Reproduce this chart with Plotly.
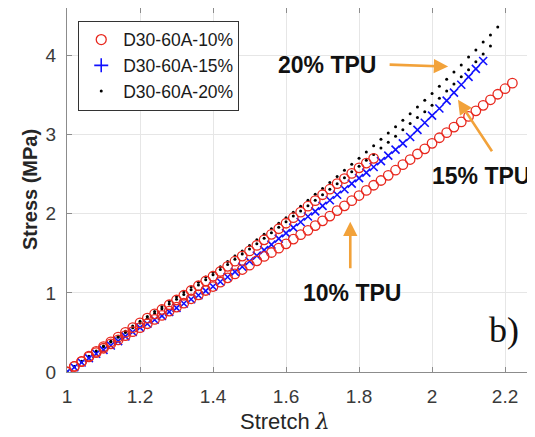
import plotly.graph_objects as go

# ---------------- data ----------------
# D30-60A-10% : test run 1 (stops at lambda ~1.84)
lam_10a = [1.00, 1.02, 1.04, 1.06, 1.08, 1.10, 1.12, 1.14, 1.16, 1.18, 1.20, 1.22, 1.24, 1.26, 1.28,
           1.30, 1.32, 1.34, 1.36, 1.38, 1.40, 1.42, 1.44, 1.46, 1.48, 1.50, 1.52, 1.54, 1.56, 1.58,
           1.60, 1.62, 1.64, 1.66, 1.68, 1.70, 1.72, 1.74, 1.76, 1.78, 1.80, 1.82, 1.84]
sig_10a = [0.00, 0.07, 0.135, 0.20, 0.26, 0.32, 0.38, 0.44, 0.50, 0.56, 0.62, 0.68, 0.735, 0.79, 0.85,
           0.91, 0.97, 1.03, 1.09, 1.15, 1.21, 1.27, 1.335, 1.40, 1.465, 1.53, 1.60, 1.67, 1.74, 1.81,
           1.88, 1.95, 2.02, 2.095, 2.165, 2.24, 2.31, 2.38, 2.445, 2.51, 2.58, 2.64, 2.70]
# D30-60A-10% : test run 2 (to lambda ~2.22)
lam_10b = [1.00, 1.02, 1.04, 1.06, 1.08, 1.10, 1.12, 1.14, 1.16, 1.18, 1.20, 1.22, 1.24, 1.26, 1.28,
           1.30, 1.32, 1.34, 1.36, 1.38, 1.40, 1.42, 1.44, 1.46, 1.48, 1.50, 1.52, 1.54, 1.56, 1.58,
           1.60, 1.62, 1.64, 1.66, 1.68, 1.70, 1.72, 1.74, 1.76, 1.78, 1.80, 1.82, 1.84, 1.86, 1.88,
           1.90, 1.92, 1.94, 1.96, 1.98, 2.00, 2.02, 2.04, 2.06, 2.08, 2.10, 2.12, 2.14, 2.16, 2.18,
           2.20, 2.22]
sig_10b = [0.00, 0.07, 0.13, 0.19, 0.245, 0.30, 0.355, 0.405, 0.46, 0.51, 0.56, 0.61, 0.665, 0.715, 0.77,
           0.82, 0.87, 0.925, 0.975, 1.03, 1.08, 1.135, 1.19, 1.24, 1.295, 1.35, 1.405, 1.46, 1.51, 1.565,
           1.62, 1.68, 1.735, 1.79, 1.85, 1.91, 1.97, 2.04, 2.10, 2.165, 2.23, 2.295, 2.36, 2.42, 2.485,
           2.55, 2.62, 2.685, 2.755, 2.82, 2.89, 2.96, 3.025, 3.095, 3.16, 3.23, 3.30, 3.37, 3.44, 3.51,
           3.58, 3.65]
# D30-60A-15%
lam_15 = [1.00, 1.02, 1.04, 1.06, 1.08, 1.10, 1.12, 1.14, 1.16, 1.18, 1.20, 1.22, 1.24, 1.26, 1.28,
          1.30, 1.32, 1.34, 1.36, 1.38, 1.40, 1.42, 1.44, 1.46, 1.48, 1.50, 1.52, 1.54, 1.56, 1.58,
          1.60, 1.62, 1.64, 1.66, 1.68, 1.70, 1.72, 1.74, 1.76, 1.78, 1.80, 1.82, 1.84, 1.86, 1.88,
          1.90, 1.92, 1.94, 1.96, 1.98, 2.00, 2.02, 2.04, 2.06, 2.08, 2.10, 2.12, 2.14]
sig_15 = [0.00, 0.06, 0.12, 0.175, 0.23, 0.28, 0.335, 0.39, 0.45, 0.505, 0.56, 0.61, 0.66, 0.71, 0.76,
          0.81, 0.865, 0.92, 0.97, 1.025, 1.08, 1.14, 1.20, 1.265, 1.33, 1.40, 1.47, 1.54, 1.61, 1.685,
          1.755, 1.825, 1.895, 1.965, 2.03, 2.10, 2.17, 2.24, 2.31, 2.38, 2.45, 2.52, 2.59, 2.665, 2.735,
          2.81, 2.89, 2.97, 3.06, 3.15, 3.24, 3.33, 3.43, 3.53, 3.63, 3.73, 3.83, 3.93]
# D30-60A-20% : two test runs
lam_20a = [1.00, 1.02, 1.04, 1.06, 1.08, 1.10, 1.12, 1.14, 1.16, 1.18, 1.20, 1.22, 1.24, 1.26, 1.28,
           1.30, 1.32, 1.34, 1.36, 1.38, 1.40, 1.42, 1.44, 1.46, 1.48, 1.50, 1.52, 1.54, 1.56, 1.58,
           1.60, 1.62, 1.64, 1.66, 1.68, 1.70, 1.72, 1.74, 1.76, 1.78, 1.80, 1.82, 1.84, 1.86, 1.88,
           1.90, 1.92, 1.94, 1.96, 1.98, 2.00, 2.02, 2.04, 2.06, 2.08, 2.10, 2.12, 2.14, 2.16, 2.18]
sig_20a = [0.00, 0.07, 0.135, 0.20, 0.265, 0.33, 0.39, 0.45, 0.515, 0.58, 0.64, 0.70, 0.765, 0.825, 0.89,
           0.95, 1.01, 1.075, 1.135, 1.20, 1.26, 1.33, 1.395, 1.465, 1.53, 1.60, 1.67, 1.74, 1.81, 1.88,
           1.95, 2.02, 2.095, 2.17, 2.245, 2.32, 2.395, 2.47, 2.55, 2.625, 2.70, 2.78, 2.86, 2.94, 3.02,
           3.10, 3.18, 3.265, 3.35, 3.435, 3.52, 3.61, 3.70, 3.79, 3.88, 3.98, 4.07, 4.17, 4.26, 4.36]
lam_20b = [1.00, 1.02, 1.04, 1.06, 1.08, 1.10, 1.12, 1.14, 1.16, 1.18, 1.20, 1.22, 1.24, 1.26, 1.28,
           1.30, 1.32, 1.34, 1.36, 1.38, 1.40, 1.42, 1.44, 1.46, 1.48, 1.50, 1.52, 1.54, 1.56, 1.58,
           1.60, 1.62, 1.64, 1.66, 1.68, 1.70, 1.72, 1.74, 1.76, 1.78, 1.80, 1.82, 1.84, 1.86, 1.88,
           1.90, 1.92, 1.94, 1.96, 1.98, 2.00, 2.02, 2.04, 2.06, 2.08, 2.10, 2.12, 2.14, 2.16]
sig_20b = [0.00, 0.065, 0.13, 0.19, 0.255, 0.32, 0.38, 0.44, 0.50, 0.56, 0.62, 0.68, 0.74, 0.80, 0.86,
           0.92, 0.98, 1.04, 1.10, 1.165, 1.23, 1.295, 1.36, 1.425, 1.49, 1.555, 1.62, 1.69, 1.76, 1.83,
           1.90, 1.97, 2.035, 2.10, 2.17, 2.24, 2.31, 2.38, 2.455, 2.53, 2.60, 2.675, 2.75, 2.83, 2.905,
           2.98, 3.06, 3.14, 3.215, 3.29, 3.37, 3.46, 3.55, 3.64, 3.73, 3.82, 3.92, 4.02, 4.12]

x_ticks = [1, 1.2, 1.4, 1.6, 1.8, 2, 2.2]
x_ticklabels = ["1", "1.2", "1.4", "1.6", "1.8", "2", "2.2"]
y_ticks = [0, 1, 2, 3, 4]
y_ticklabels = ["0", "1", "2", "3", "4"]
legend_names = ["D30-60A-10%", "D30-60A-15%", "D30-60A-20%"]

# ---------------- styles ----------------
RED = "#e8281e"
BLUE = "#1010ff"
BLACK = "#000000"
ORANGE = "#f2a23a"
FONT = "Arial, Liberation Sans, Helvetica, sans-serif"

fig = go.Figure()

red_marker = dict(symbol="circle-open", size=9.5, color=RED, line=dict(width=1.3, color=RED))
blue_marker = dict(symbol="x-thin-open", size=8, color=BLUE, line=dict(width=1.6, color=BLUE))
black_marker = dict(symbol="circle", size=3, color=BLACK)

fig.add_trace(go.Scatter(x=lam_20a, y=sig_20a, mode="markers", marker=black_marker, showlegend=False))
fig.add_trace(go.Scatter(x=lam_20b, y=sig_20b, mode="markers", marker=black_marker, showlegend=False))
fig.add_trace(go.Scatter(x=lam_15, y=sig_15, mode="markers", marker=blue_marker, showlegend=False))
fig.add_trace(go.Scatter(x=lam_10a, y=sig_10a, mode="markers", marker=red_marker, showlegend=False))
fig.add_trace(go.Scatter(x=lam_10b, y=sig_10b, mode="markers", marker=red_marker, showlegend=False))

# legend entries
fig.add_trace(go.Scatter(x=[None], y=[None], mode="markers", name=legend_names[0],
                         marker=dict(symbol="circle-open", size=10, color=RED, line=dict(width=1.3, color=RED))))
fig.add_trace(go.Scatter(x=[None], y=[None], mode="markers", name=legend_names[1],
                         marker=dict(symbol="cross-thin-open", size=10, color=BLUE, line=dict(width=1.6, color=BLUE))))
fig.add_trace(go.Scatter(x=[None], y=[None], mode="markers", name=legend_names[2],
                         marker=dict(symbol="circle", size=3, color=BLACK)))

axis_common = dict(
    showgrid=True, gridcolor="#e6e6e6", gridwidth=1,
    showline=True, linecolor="#8c8c8c", linewidth=1, mirror="ticks",
    ticks="inside", ticklen=5, tickcolor="#8c8c8c", tickwidth=1,
    zeroline=False, automargin=False,
    tickfont=dict(family=FONT, size=19, color="#3a3a3a"),
)

# the page body has an 8px margin, so the figure is sized/margined to compensate
fig.update_layout(
    width=527, height=429,
    margin=dict(l=59, r=0, t=0, b=65, autoexpand=False),
    paper_bgcolor="white", plot_bgcolor="white",
    xaxis=dict(range=[1, 2.282], tickvals=x_ticks, ticktext=x_ticklabels,
               ticklabelstandoff=7, **axis_common),
    yaxis=dict(range=[0, 4.6], tickvals=y_ticks, ticktext=y_ticklabels,
               ticklabelstandoff=6, **axis_common),
    legend=dict(x=0.024, y=0.965, xanchor="left", yanchor="top",
                bgcolor="white", bordercolor="#333333", borderwidth=1,
                font=dict(family=FONT, size=17.5, color="#1a1a1a"),
                itemwidth=34, tracegroupgap=0),
    showlegend=True,
)

# axis titles as annotations (placed as in the reference)
fig.add_annotation(xref="paper", yref="paper", x=-0.079, y=0.5, text="<b>Stress (MPa)</b>",
                   textangle=-90, showarrow=False, xanchor="center", yanchor="middle",
                   font=dict(family=FONT, size=20, color="#262626"))
fig.add_annotation(xref="paper", yref="paper", x=0.466, y=-0.135,
                   text="Stretch <i><span style='font-family:DejaVu Serif'>λ</span></i>",
                   showarrow=False, xanchor="center", yanchor="middle",
                   font=dict(family=FONT, size=22, color="#262626"))

# arrows
arrow_style = dict(showarrow=True, arrowhead=2, arrowsize=1.1, arrowwidth=2.6, arrowcolor=ORANGE,
                   axref="pixel", ayref="pixel", text="")
fig.add_annotation(x=2.044, y=3.86, ax=-60, ay=-2, **arrow_style)
fig.add_annotation(x=2.071, y=3.44, ax=35, ay=53, **arrow_style)
fig.add_annotation(x=1.776, y=1.90, ax=0, ay=48, **arrow_style)

label_font = dict(family=FONT, size=23, color="#111111")
fig.add_annotation(x=1.713, y=3.886, text="<b>20% TPU</b>", showarrow=False, font=label_font)
fig.add_annotation(xref="paper", x=0.994, y=2.48, xanchor="right", text="<b>15% TPU</b>",
                   showarrow=False, font=label_font)
fig.add_annotation(x=1.781, y=1.00, text="<b>10% TPU</b>", showarrow=False, font=label_font)
fig.add_annotation(x=2.197, y=0.53, text="b)", showarrow=False,
                   font=dict(family="Liberation Serif, Times New Roman, serif", size=36, color="#111111"))

fig.write_html("out.html")
